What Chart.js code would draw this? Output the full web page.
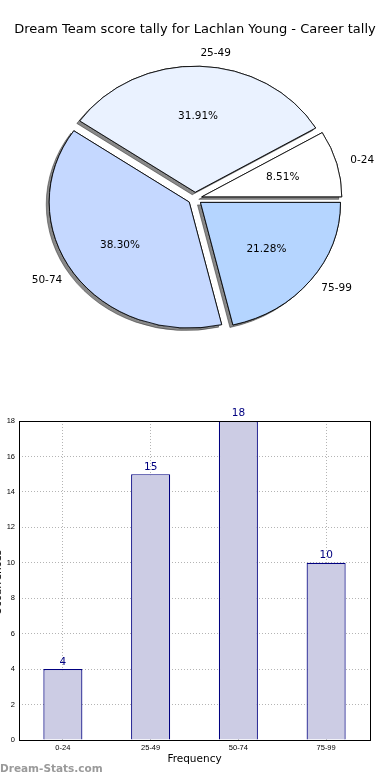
<!DOCTYPE html>
<html>
<head>
<meta charset="utf-8">
<script src="https://cdn.jsdelivr.net/npm/chart.js@4.4.1/dist/chart.umd.min.js"></script>
<style>
    html, body { margin: 0; padding: 0; background: #fff; }
    body { width: 390px; height: 780px; position: relative; overflow: hidden; }
    #pieChart { position: absolute; left: 0; top: 0; }
    #barChart { position: absolute; left: 0; top: 397px; }
    #watermark {
        position: absolute; left: 0; top: 762px;
        font: bold 10.5px "DejaVu Sans", sans-serif; color: #9a9a9a;
    }
</style>
</head>
<body>
<canvas id="pieChart" width="390" height="397"></canvas>
<canvas id="barChart" width="390" height="383"></canvas>
<div id="watermark">Dream-Stats.com</div>
<script>
    // score ranges and how often each one came up
    const categories = ['0-24', '25-49', '50-74', '75-99'];
    const tallyCounts = [4, 15, 18, 10];
    const yMax = 18;
    const yStep = 2;

    const chartTitle = 'Dream Team score tally for Lachlan Young - Career tally';
    const xTitle = 'Frequency';
    const yTitle = 'Occurrences';

    const pieColors = ['#ffffff', '#eaf2ff', '#c5d8ff', '#b5d5ff'];
    const SQUASH = 0.9;      // pie is drawn slightly oval, like the original
    const EXPLODE = 7;       // px each wedge is pushed out

    const total = tallyCounts.reduce((a, b) => a + b, 0);

    // Chart.js goes clockwise, so feed the slices reversed from 3 o'clock
    const pieLabels = categories.slice().reverse();
    const pieValues = tallyCounts.slice().reverse();
    const pieFills = pieColors.slice().reverse();

    function drawArcs(ctx, arcs) {
        arcs.forEach(arc => {
            const mid = (arc.startAngle + arc.endAngle) / 2;
            ctx.save();
            ctx.translate(Math.cos(mid) * EXPLODE, Math.sin(mid) * EXPLODE);
            arc.draw(ctx);
            ctx.restore();
        });
    }

    const pieShape = {
        id: 'pieShape',
        beforeDatasetsDraw(chart) {
            const ctx = chart.ctx;
            const a = chart.chartArea;
            const cx = (a.left + a.right) / 2, cy = (a.top + a.bottom) / 2;
            const arcs = chart.getDatasetMeta(0).data;
            ctx.save();
            ctx.translate(cx, cy);
            ctx.scale(1, SQUASH);
            ctx.translate(-cx, -cy);
            // shadow pass first, then the wedges again on top of it
            ctx.save();
            ctx.shadowColor = 'rgba(40,40,40,0.55)';
            ctx.shadowOffsetX = -3;
            ctx.shadowOffsetY = 2.5;
            ctx.shadowBlur = 0;
            drawArcs(ctx, arcs);
            ctx.restore();
            drawArcs(ctx, arcs);
            ctx.restore();
            return false;
        },
        afterDraw(chart) {
            const ctx = chart.ctx;
            const meta = chart.getDatasetMeta(0);
            ctx.save();
            ctx.fillStyle = '#000';
            ctx.font = '10.5px "DejaVu Sans", sans-serif';
            ctx.textBaseline = 'middle';
            meta.data.forEach((arc, i) => {
                const mid = (arc.startAngle + arc.endAngle) / 2;
                const r = arc.outerRadius;
                const c = Math.cos(mid), s = Math.sin(mid);
                // percentage inside
                const pr = EXPLODE + 0.6 * r;
                ctx.textAlign = 'center';
                const pct = (pieValues[i] / total * 100).toFixed(2) + '%';
                ctx.fillText(pct, arc.x + pr * c, arc.y + pr * s * SQUASH);
                // category outside
                const lr = EXPLODE + 1.1 * r;
                ctx.textAlign = c >= 0 ? 'left' : 'right';
                ctx.fillText(pieLabels[i], arc.x + lr * c, arc.y + lr * s * SQUASH);
            });
            ctx.font = '13px "DejaVu Sans", sans-serif';
            ctx.textAlign = 'center';
            ctx.fillText(chartTitle, 195, 30);
            ctx.restore();
        }
    };

    new Chart(document.getElementById('pieChart'), {
        type: 'pie',
        data: {
            labels: pieLabels,
            datasets: [{
                data: pieValues,
                backgroundColor: pieFills,
                borderColor: '#000',
                borderWidth: 0.9,
                borderJoinStyle: 'miter',
                offset: 0,
                hoverOffset: 0,
                radius: 140,
                rotation: 90,
            }]
        },
        options: {
            responsive: false,
            devicePixelRatio: 1,
            animation: false,
            events: [],
            layout: { padding: 0 },
            plugins: { legend: { display: false }, tooltip: { enabled: false } }
        },
        plugins: [pieShape]
    });

    const barExtras = {
        id: 'barExtras',
        afterDatasetsDraw(chart) {
            const ctx = chart.ctx;
            const meta = chart.getDatasetMeta(0);
            ctx.save();
            ctx.fillStyle = '#000080';
            ctx.font = '10.5px "DejaVu Sans", sans-serif';
            ctx.textAlign = 'center';
            ctx.textBaseline = 'bottom';
            meta.data.forEach((bar, i) => {
                ctx.fillText(String(tallyCounts[i]), bar.x, bar.y - 2);
            });
            ctx.restore();
        },
        afterDraw(chart) {
            const ctx = chart.ctx;
            const a = chart.chartArea;
            ctx.save();
            ctx.strokeStyle = '#000';
            ctx.lineWidth = 1;
            ctx.strokeRect(Math.round(a.left) + 0.5, Math.round(a.top) + 0.5,
                Math.round(a.right) - Math.round(a.left), Math.round(a.bottom - a.top));
            // y title sits mostly off the left edge
            ctx.translate(1, (a.top + a.bottom) / 2 + 2);
            ctx.rotate(-Math.PI / 2);
            ctx.fillStyle = '#000';
            ctx.font = '10.5px "DejaVu Sans", sans-serif';
            ctx.textAlign = 'center';
            ctx.textBaseline = 'alphabetic';
            ctx.fillText(yTitle, 0, 0);
            ctx.restore();
        }
    };

    new Chart(document.getElementById('barChart'), {
        type: 'bar',
        data: {
            labels: categories,
            datasets: [{
                data: tallyCounts,
                backgroundColor: 'rgb(204,204,228)',
                borderColor: '#000080',
                borderWidth: 1.2,
                categoryPercentage: 1,
                barPercentage: 0.445,
            }]
        },
        options: {
            responsive: false,
            devicePixelRatio: 1,
            animation: false,
            events: [],
            layout: { padding: { top: 24, right: 20, left: 0, bottom: 0 } },
            plugins: { legend: { display: false }, tooltip: { enabled: false } },
            scales: {
                x: {
                    z: 1,
                    afterFit: s => { s.height = 40; },
                    grid: { color: '#b4b4b4', offset: false, drawTicks: false },
                    border: { display: false, dash: [1, 2] },
                    ticks: { color: '#000', padding: 3, font: { family: 'Liberation Sans', size: 7.5 } },
                    title: {
                        display: true, text: xTitle, color: '#000',
                        font: { family: 'DejaVu Sans', size: 10.5 },
                        padding: { top: 0, bottom: 14 }
                    }
                },
                y: {
                    z: 1,
                    min: 0,
                    max: yMax,
                    afterFit: s => { s.width = 19; },
                    grid: { color: '#b4b4b4', drawTicks: false },
                    border: { display: false, dash: [1, 2] },
                    ticks: { stepSize: yStep, color: '#000', padding: 4, font: { family: 'Liberation Sans', size: 7.5 } }
                }
            }
        },
        plugins: [barExtras]
    });
</script>
</body>
</html>
